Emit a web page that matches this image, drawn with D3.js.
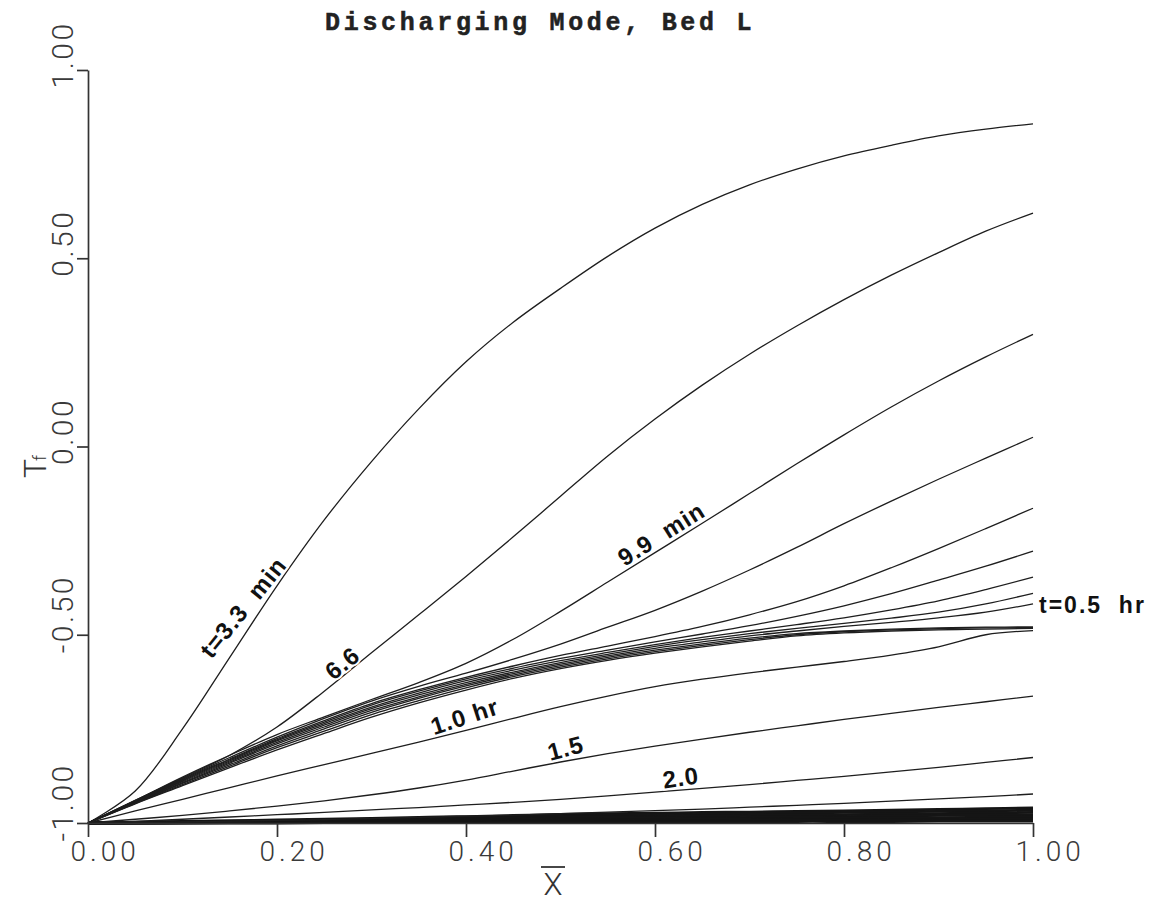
<!DOCTYPE html>
<html>
<head>
<meta charset="utf-8">
<script src="https://cdn.jsdelivr.net/npm/d3@7"></script>
<style>
  html, body { margin: 0; padding: 0; background: #fff; }
  svg { display: block; }
</style>
</head>
<body>
<svg id="chart" width="1154" height="904"></svg>
<script>
// Dimensionless position along the bed
const xGrid = [0, 0.05, 0.1, 0.15, 0.2, 0.25, 0.3, 0.35, 0.4, 0.45, 0.5,
               0.55, 0.6, 0.65, 0.7, 0.75, 0.8, 0.85, 0.9, 0.95, 1];

// Fluid temperature profiles T_f(X) at successive times
const t3_3min  = [-1, -0.915, -0.75, -0.56, -0.37, -0.195, -0.04, 0.1, 0.225, 0.33, 0.42, 0.505, 0.58, 0.643, 0.695, 0.737, 0.772, 0.80, 0.825, 0.843, 0.857];
const t6_6min  = [-1, -0.94, -0.88, -0.82, -0.745, -0.65, -0.548, -0.447, -0.345, -0.24, -0.132, -0.025, 0.073, 0.163, 0.245, 0.32, 0.39, 0.455, 0.515, 0.572, 0.62];
const t9_9min  = [-1, -0.94, -0.878, -0.82, -0.765, -0.718, -0.672, -0.627, -0.576, -0.512, -0.438, -0.36, -0.282, -0.204, -0.125, -0.046, 0.031, 0.105, 0.174, 0.238, 0.298];
const t13_2min = [-1, -0.941, -0.882, -0.826, -0.772, -0.722, -0.676, -0.637, -0.602, -0.565, -0.525, -0.48, -0.435, -0.384, -0.328, -0.268, -0.205, -0.145, -0.087, -0.031, 0.0245];
const t16_5min = [-1, -0.942, -0.884, -0.83, -0.776, -0.728, -0.683, -0.646, -0.613, -0.583, -0.555, -0.53, -0.505, -0.478, -0.447, -0.412, -0.37, -0.322, -0.271, -0.218, -0.164];
const t19_8min = [-1, -0.943, -0.886, -0.832, -0.779, -0.732, -0.687, -0.65, -0.617, -0.589, -0.563, -0.541, -0.519, -0.498, -0.476, -0.451, -0.423, -0.391, -0.355, -0.318, -0.278];
const t23_1min = [-1, -0.944, -0.888, -0.835, -0.782, -0.736, -0.692, -0.655, -0.622, -0.594, -0.569, -0.547, -0.526, -0.507, -0.49, -0.473, -0.455, -0.434, -0.41, -0.38, -0.347];
const t26_4min = [-1, -0.945, -0.89, -0.838, -0.786, -0.74, -0.696, -0.66, -0.627, -0.599, -0.574, -0.552, -0.531, -0.513, -0.497, -0.483, -0.47, -0.456, -0.44, -0.418, -0.39];
const t0_5hr   = [-1, -0.946, -0.893, -0.841, -0.79, -0.745, -0.701, -0.665, -0.632, -0.603, -0.578, -0.556, -0.536, -0.519, -0.503, -0.49, -0.478, -0.467, -0.455, -0.44, -0.418];
const t0_6hr   = [-1, -0.947, -0.895, -0.845, -0.795, -0.75, -0.706, -0.669, -0.636, -0.607, -0.582, -0.56, -0.541, -0.524, -0.509, -0.497, -0.49, -0.485, -0.482, -0.48, -0.479];
const t0_7hr   = [-1, -0.948, -0.898, -0.849, -0.8, -0.756, -0.712, -0.675, -0.641, -0.611, -0.586, -0.564, -0.545, -0.528, -0.513, -0.5, -0.492, -0.487, -0.484, -0.482, -0.481];
const t0_8hr   = [-1, -0.949, -0.901, -0.853, -0.806, -0.762, -0.719, -0.681, -0.647, -0.616, -0.59, -0.568, -0.549, -0.532, -0.517, -0.503, -0.495, -0.49, -0.487, -0.485, -0.483];
const t1_0hr   = [-1, -0.968, -0.937, -0.906, -0.875, -0.845, -0.815, -0.785, -0.754, -0.722, -0.691, -0.663, -0.638, -0.618, -0.601, -0.586, -0.571, -0.554, -0.532, -0.5, -0.489];
const t1_5hr   = [-1, -0.99, -0.98, -0.968, -0.955, -0.941, -0.925, -0.907, -0.886, -0.862, -0.838, -0.816, -0.796, -0.777, -0.759, -0.742, -0.725, -0.709, -0.693, -0.678, -0.663];
const t2_0hr   = [-1, -0.996, -0.99, -0.984, -0.978, -0.972, -0.965, -0.959, -0.952, -0.945, -0.937, -0.928, -0.918, -0.908, -0.898, -0.887, -0.876, -0.864, -0.852, -0.839, -0.826];
const t2_5hr   = [-1, -0.999, -0.997, -0.995, -0.993, -0.991, -0.988, -0.985, -0.982, -0.979, -0.975, -0.971, -0.967, -0.963, -0.958, -0.953, -0.948, -0.942, -0.936, -0.93, -0.923];

// Late profiles crowding onto the inlet temperature
const t3_0hr = [-1, -0.998, -0.996, -0.994, -0.992, -0.99, -0.988, -0.985, -0.983, -0.98, -0.977, -0.975, -0.974, -0.972, -0.971, -0.969, -0.968, -0.966, -0.964, -0.962, -0.960];
const t3_5hr = [-1, -0.999, -0.997, -0.996, -0.994, -0.992, -0.99, -0.988, -0.986, -0.984, -0.981, -0.98, -0.978, -0.977, -0.975, -0.974, -0.972, -0.971, -0.969, -0.968, -0.966];
const t4_0hr = [-1, -0.999, -0.998, -0.997, -0.996, -0.994, -0.993, -0.991, -0.989, -0.987, -0.985, -0.984, -0.983, -0.982, -0.98, -0.979, -0.978, -0.976, -0.975, -0.973, -0.972];
const t4_5hr = [-1, -1, -0.999, -0.998, -0.997, -0.996, -0.995, -0.994, -0.992, -0.991, -0.989, -0.988, -0.987, -0.986, -0.985, -0.984, -0.983, -0.982, -0.98, -0.979, -0.978];
const t5_0hr = [-1, -1, -0.999, -0.999, -0.998, -0.997, -0.997, -0.996, -0.995, -0.994, -0.992, -0.992, -0.991, -0.99, -0.989, -0.988, -0.987, -0.986, -0.986, -0.985, -0.984];
const t5_5hr = [-1, -1, -1, -0.999, -0.999, -0.998, -0.998, -0.998, -0.997, -0.996, -0.995, -0.995, -0.994, -0.994, -0.993, -0.992, -0.992, -0.991, -0.991, -0.99, -0.99];
const t6_0hr = [-1, -1, -1, -1, -1, -0.999, -0.999, -0.999, -0.999, -0.998, -0.998, -0.998, -0.997, -0.997, -0.997, -0.996, -0.996, -0.996, -0.995, -0.995, -0.995];

const profileSeries = [t3_3min, t6_6min, t9_9min, t13_2min, t16_5min, t19_8min, t23_1min,
                       t26_4min, t0_5hr, t0_6hr, t0_7hr, t0_8hr, t1_0hr, t1_5hr, t2_0hr, t2_5hr];
const lateSeries = [t3_0hr, t3_5hr, t4_0hr, t4_5hr, t5_0hr, t5_5hr, t6_0hr];

// Axis ticks
const xTicks = [0, 0.2, 0.4, 0.6, 0.8, 1.0];
const xTickLabels = ["0.00", "0.20", "0.40", "0.60", "0.80", "1.00"];
const yTicks = [-1, -0.5, 0, 0.5, 1];
const yTickLabels = ["-1.00", "-0.50", "0.00", "0.50", "1.00"];

// Curve annotations: text, the profile they sit on, and where along X
const curveLabels = ["t=3.3  min", "6.6", "9.9  min", "1.0 hr", "1.5", "2.0"];
const labelSeries = [t3_3min, t6_6min, t9_9min, t1_0hr, t1_5hr, t2_0hr];
const labelAtX = [0.214, 0.276, 0.57, 0.367, 0.49, 0.61];
const endLabel = "t=0.5  hr";
const endLabelSeries = t0_5hr;

const titleText = "Discharging Mode, Bed L";

// ---- drawing ----
const svg = d3.select("#chart");
const x = d3.scaleLinear().domain([0, 1]).range([88, 1033]);
const y = d3.scaleLinear().domain([-1, 1]).range([823, 70]);

const line = d3.line()
  .x((d, i) => x(xGrid[i]))
  .y(d => y(d))
  .curve(d3.curveCatmullRom.alpha(0.5));

function valueAt(vals, X) {
  const i = Math.min(xGrid.length - 2, Math.max(0, d3.bisectRight(xGrid, X) - 1));
  const f = (X - xGrid[i]) / (xGrid[i + 1] - xGrid[i]);
  return vals[i] + f * (vals[i + 1] - vals[i]);
}

const plot = svg.append("g");

plot.selectAll("path.late")
  .data(lateSeries)
  .join("path")
  .attr("class", "late")
  .attr("d", line)
  .attr("fill", "none")
  .attr("stroke", "#151515")
  .attr("stroke-width", 2.8)
  .attr("stroke-linejoin", "round");

plot.selectAll("path.profile")
  .data(profileSeries)
  .join("path")
  .attr("class", "profile")
  .attr("d", line)
  .attr("fill", "none")
  .attr("stroke", "#1e1e1e")
  .attr("stroke-width", 1.3)
  .attr("stroke-linejoin", "round");

// Curve labels
const labelAngle = [-51, -38, -32, -18, -15, -8];
const labelAnchor = ["end", "middle", "start", "start", "start", "start"];
const labelShift = [-3, -2, -4, -3, -3, -3];

const labelFont = "'Liberation Sans', Arial, Helvetica, sans-serif";
curveLabels.forEach((txt, k) => {
  const X = labelAtX[k];
  const px = x(X), py = y(valueAt(labelSeries[k], X));
  plot.append("text")
    .attr("transform", `translate(${px},${py}) rotate(${labelAngle[k]}) translate(0,${labelShift[k]})`)
    .attr("text-anchor", labelAnchor[k])
    .attr("font-family", labelFont)
    .attr("font-weight", "bold")
    .attr("font-size", 24)
    .attr("letter-spacing", 1)
    .style("white-space", "pre")
    .attr("fill", "#111")
    .attr("stroke", "#fff")
    .attr("stroke-width", 4)
    .attr("paint-order", "stroke")
    .text(txt);
});

plot.append("text")
  .attr("x", x(1) + 6)
  .attr("y", y(endLabelSeries[endLabelSeries.length - 1]) + 9)
  .attr("font-family", labelFont)
  .attr("font-weight", "bold")
  .attr("font-size", 23)
  .attr("letter-spacing", 2)
  .style("white-space", "pre")
  .attr("fill", "#111")
  .text(endLabel);

// Axes
const tickFont = "Roboto, 'Open Sans', 'DejaVu Sans', sans-serif";
const axisColor = "#333";

const gy = svg.append("g").attr("transform", `translate(${x(0)},0)`)
  .call(d3.axisLeft(y).tickValues(yTicks).tickSize(11).tickSizeOuter(0)
        .tickFormat((d, i) => yTickLabels[i]));
const gx = svg.append("g").attr("transform", `translate(0,${y(-1)})`)
  .call(d3.axisBottom(x).tickValues(xTicks).tickSize(14).tickSizeOuter(0)
        .tickFormat((d, i) => xTickLabels[i]));

[gx, gy].forEach(g => {
  g.attr("font-family", tickFont).attr("font-size", null);
  g.select(".domain").attr("stroke", axisColor).attr("stroke-width", 1.7);
  g.selectAll(".tick line").attr("stroke", axisColor).attr("stroke-width", 1.7);
  g.selectAll(".tick text").attr("fill", "#3a3a3a").attr("font-weight", 300);
});

gy.selectAll(".tick text")
  .attr("x", 0).attr("y", 0).attr("dy", 0)
  .attr("transform", "translate(-15,18) rotate(-90)")
  .attr("text-anchor", "start")
  .attr("font-size", 30)
  .attr("letter-spacing", 2.5);

gx.selectAll(".tick text")
  .attr("x", -18).attr("y", 38).attr("dy", 0)
  .attr("text-anchor", "start")
  .attr("font-size", 28)
  .attr("letter-spacing", 4);

// Axis titles
const yTitle = svg.append("text")
  .attr("transform", "translate(46,478) rotate(-90)")
  .attr("font-family", tickFont)
  .attr("font-weight", 300)
  .attr("font-size", 32)
  .attr("fill", "#333");
yTitle.append("tspan").text("T");
yTitle.append("tspan").attr("font-size", 18).attr("dx", -2).attr("dy", 0).text("f");

const xTitleX = 553;
svg.append("text")
  .attr("x", xTitleX).attr("y", 895)
  .attr("text-anchor", "middle")
  .attr("font-family", tickFont)
  .attr("font-weight", 300)
  .attr("font-size", 31)
  .attr("fill", "#333")
  .text("X");
svg.append("line")
  .attr("x1", xTitleX - 12).attr("x2", xTitleX + 12)
  .attr("y1", 867).attr("y2", 867)
  .attr("stroke", "#333").attr("stroke-width", 1.8);

// Title
svg.append("text")
  .attr("x", 325).attr("y", 30)
  .attr("font-family", "'Liberation Mono', 'Courier New', monospace")
  .attr("font-weight", "bold")
  .attr("font-size", 25)
  .attr("letter-spacing", 3.7)
  .style("white-space", "pre")
  .attr("fill", "#222")
  .attr("stroke", "#222")
  .attr("stroke-width", 0.5)
  .text(titleText);
</script>
</body>
</html>
